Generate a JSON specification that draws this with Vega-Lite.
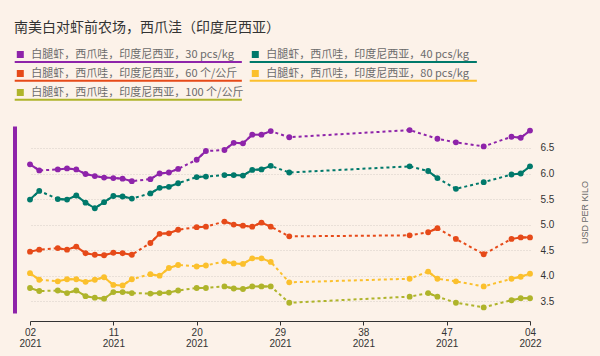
{
  "$schema": "https://vega.github.io/schema/vega-lite/v6.json",
  "width": 500,
  "height": 187,
  "autosize": {"type": "none"},
  "padding": {"left": 30, "top": 126, "right": 70, "bottom": 43},
  "background": "#fcf2e9",
  "config": {"view": {"stroke": null}, "font": "Noto Sans CJK SC"},
  "title": {
    "text": "南美白对虾前农场，西爪洼（印度尼西亚）",
    "anchor": "start",
    "frame": "group",
    "fontSize": 14,
    "fontWeight": "normal",
    "color": "#333333",
    "font": "Noto Sans CJK SC",
    "dx": -16,
    "dy": -6,
    "offset": 8
  },
  "data": {
    "values": [
      {"series": "30 pcs/kg", "week": 2, "price": 6.18},
      {"series": "30 pcs/kg", "week": 3, "price": 6.06},
      {"series": "30 pcs/kg", "week": 5, "price": 6.08},
      {"series": "30 pcs/kg", "week": 6, "price": 6.10},
      {"series": "30 pcs/kg", "week": 7, "price": 6.08},
      {"series": "30 pcs/kg", "week": 8, "price": 5.99},
      {"series": "30 pcs/kg", "week": 9, "price": 5.95},
      {"series": "30 pcs/kg", "week": 10, "price": 5.92},
      {"series": "30 pcs/kg", "week": 11, "price": 5.91},
      {"series": "30 pcs/kg", "week": 12, "price": 5.90},
      {"series": "30 pcs/kg", "week": 13, "price": 5.85},
      {"series": "30 pcs/kg", "week": 15, "price": 5.89},
      {"series": "30 pcs/kg", "week": 16, "price": 6.00},
      {"series": "30 pcs/kg", "week": 17, "price": 6.02},
      {"series": "30 pcs/kg", "week": 18, "price": 6.09},
      {"series": "30 pcs/kg", "week": 20, "price": 6.27},
      {"series": "30 pcs/kg", "week": 21, "price": 6.44},
      {"series": "30 pcs/kg", "week": 23, "price": 6.46},
      {"series": "30 pcs/kg", "week": 24, "price": 6.60},
      {"series": "30 pcs/kg", "week": 25, "price": 6.59},
      {"series": "30 pcs/kg", "week": 26, "price": 6.76},
      {"series": "30 pcs/kg", "week": 27, "price": 6.76},
      {"series": "30 pcs/kg", "week": 28, "price": 6.83},
      {"series": "30 pcs/kg", "week": 30, "price": 6.71},
      {"series": "30 pcs/kg", "week": 43, "price": 6.85},
      {"series": "30 pcs/kg", "week": 46, "price": 6.68},
      {"series": "30 pcs/kg", "week": 48, "price": 6.61},
      {"series": "30 pcs/kg", "week": 51, "price": 6.53},
      {"series": "30 pcs/kg", "week": 54, "price": 6.72},
      {"series": "30 pcs/kg", "week": 55, "price": 6.70},
      {"series": "30 pcs/kg", "week": 56, "price": 6.84},
      {"series": "40 pcs/kg", "week": 2, "price": 5.49},
      {"series": "40 pcs/kg", "week": 3, "price": 5.66},
      {"series": "40 pcs/kg", "week": 5, "price": 5.50},
      {"series": "40 pcs/kg", "week": 6, "price": 5.49},
      {"series": "40 pcs/kg", "week": 7, "price": 5.57},
      {"series": "40 pcs/kg", "week": 8, "price": 5.43},
      {"series": "40 pcs/kg", "week": 9, "price": 5.32},
      {"series": "40 pcs/kg", "week": 10, "price": 5.44},
      {"series": "40 pcs/kg", "week": 11, "price": 5.56},
      {"series": "40 pcs/kg", "week": 12, "price": 5.55},
      {"series": "40 pcs/kg", "week": 13, "price": 5.51},
      {"series": "40 pcs/kg", "week": 15, "price": 5.61},
      {"series": "40 pcs/kg", "week": 16, "price": 5.72},
      {"series": "40 pcs/kg", "week": 17, "price": 5.74},
      {"series": "40 pcs/kg", "week": 18, "price": 5.81},
      {"series": "40 pcs/kg", "week": 20, "price": 5.93},
      {"series": "40 pcs/kg", "week": 21, "price": 5.94},
      {"series": "40 pcs/kg", "week": 23, "price": 5.97},
      {"series": "40 pcs/kg", "week": 24, "price": 5.97},
      {"series": "40 pcs/kg", "week": 25, "price": 5.96},
      {"series": "40 pcs/kg", "week": 26, "price": 6.07},
      {"series": "40 pcs/kg", "week": 27, "price": 6.08},
      {"series": "40 pcs/kg", "week": 28, "price": 6.15},
      {"series": "40 pcs/kg", "week": 30, "price": 6.02},
      {"series": "40 pcs/kg", "week": 43, "price": 6.14},
      {"series": "40 pcs/kg", "week": 45, "price": 6.05},
      {"series": "40 pcs/kg", "week": 46, "price": 5.91},
      {"series": "40 pcs/kg", "week": 48, "price": 5.70},
      {"series": "40 pcs/kg", "week": 51, "price": 5.83},
      {"series": "40 pcs/kg", "week": 54, "price": 5.98},
      {"series": "40 pcs/kg", "week": 55, "price": 6.00},
      {"series": "40 pcs/kg", "week": 56, "price": 6.14},
      {"series": "60 个/公斤", "week": 2, "price": 4.47},
      {"series": "60 个/公斤", "week": 3, "price": 4.51},
      {"series": "60 个/公斤", "week": 5, "price": 4.54},
      {"series": "60 个/公斤", "week": 6, "price": 4.51},
      {"series": "60 个/公斤", "week": 7, "price": 4.57},
      {"series": "60 个/公斤", "week": 8, "price": 4.44},
      {"series": "60 个/公斤", "week": 9, "price": 4.41},
      {"series": "60 个/公斤", "week": 10, "price": 4.40},
      {"series": "60 个/公斤", "week": 11, "price": 4.45},
      {"series": "60 个/公斤", "week": 12, "price": 4.44},
      {"series": "60 个/公斤", "week": 13, "price": 4.41},
      {"series": "60 个/公斤", "week": 15, "price": 4.64},
      {"series": "60 个/公斤", "week": 16, "price": 4.82},
      {"series": "60 个/公斤", "week": 17, "price": 4.83},
      {"series": "60 个/公斤", "week": 18, "price": 4.90},
      {"series": "60 个/公斤", "week": 20, "price": 4.95},
      {"series": "60 个/公斤", "week": 21, "price": 4.96},
      {"series": "60 个/公斤", "week": 23, "price": 5.06},
      {"series": "60 个/公斤", "week": 24, "price": 5.00},
      {"series": "60 个/公斤", "week": 25, "price": 4.98},
      {"series": "60 个/公斤", "week": 26, "price": 4.96},
      {"series": "60 个/公斤", "week": 27, "price": 5.04},
      {"series": "60 个/公斤", "week": 28, "price": 4.96},
      {"series": "60 个/公斤", "week": 30, "price": 4.77},
      {"series": "60 个/公斤", "week": 43, "price": 4.79},
      {"series": "60 个/公斤", "week": 45, "price": 4.85},
      {"series": "60 个/公斤", "week": 46, "price": 4.93},
      {"series": "60 个/公斤", "week": 48, "price": 4.72},
      {"series": "60 个/公斤", "week": 51, "price": 4.42},
      {"series": "60 个/公斤", "week": 54, "price": 4.72},
      {"series": "60 个/公斤", "week": 55, "price": 4.75},
      {"series": "60 个/公斤", "week": 56, "price": 4.75},
      {"series": "80 pcs/kg", "week": 2, "price": 4.05},
      {"series": "80 pcs/kg", "week": 3, "price": 3.92},
      {"series": "80 pcs/kg", "week": 5, "price": 3.89},
      {"series": "80 pcs/kg", "week": 6, "price": 3.93},
      {"series": "80 pcs/kg", "week": 7, "price": 3.93},
      {"series": "80 pcs/kg", "week": 8, "price": 3.88},
      {"series": "80 pcs/kg", "week": 9, "price": 3.92},
      {"series": "80 pcs/kg", "week": 10, "price": 3.97},
      {"series": "80 pcs/kg", "week": 11, "price": 3.82},
      {"series": "80 pcs/kg", "week": 12, "price": 3.81},
      {"series": "80 pcs/kg", "week": 13, "price": 3.93},
      {"series": "80 pcs/kg", "week": 15, "price": 4.03},
      {"series": "80 pcs/kg", "week": 16, "price": 4.00},
      {"series": "80 pcs/kg", "week": 17, "price": 4.15},
      {"series": "80 pcs/kg", "week": 18, "price": 4.21},
      {"series": "80 pcs/kg", "week": 20, "price": 4.18},
      {"series": "80 pcs/kg", "week": 21, "price": 4.20},
      {"series": "80 pcs/kg", "week": 23, "price": 4.28},
      {"series": "80 pcs/kg", "week": 24, "price": 4.24},
      {"series": "80 pcs/kg", "week": 25, "price": 4.23},
      {"series": "80 pcs/kg", "week": 26, "price": 4.34},
      {"series": "80 pcs/kg", "week": 27, "price": 4.34},
      {"series": "80 pcs/kg", "week": 28, "price": 4.27},
      {"series": "80 pcs/kg", "week": 30, "price": 3.87},
      {"series": "80 pcs/kg", "week": 43, "price": 3.94},
      {"series": "80 pcs/kg", "week": 45, "price": 4.08},
      {"series": "80 pcs/kg", "week": 46, "price": 3.94},
      {"series": "80 pcs/kg", "week": 48, "price": 3.89},
      {"series": "80 pcs/kg", "week": 51, "price": 3.79},
      {"series": "80 pcs/kg", "week": 54, "price": 3.94},
      {"series": "80 pcs/kg", "week": 55, "price": 3.98},
      {"series": "80 pcs/kg", "week": 56, "price": 4.04},
      {"series": "100 个/公斤", "week": 2, "price": 3.76},
      {"series": "100 个/公斤", "week": 3, "price": 3.70},
      {"series": "100 个/公斤", "week": 5, "price": 3.71},
      {"series": "100 个/公斤", "week": 6, "price": 3.66},
      {"series": "100 个/公斤", "week": 7, "price": 3.71},
      {"series": "100 个/公斤", "week": 8, "price": 3.60},
      {"series": "100 个/公斤", "week": 9, "price": 3.57},
      {"series": "100 个/公斤", "week": 10, "price": 3.55},
      {"series": "100 个/公斤", "week": 11, "price": 3.68},
      {"series": "100 个/公斤", "week": 12, "price": 3.68},
      {"series": "100 个/公斤", "week": 13, "price": 3.66},
      {"series": "100 个/公斤", "week": 15, "price": 3.65},
      {"series": "100 个/公斤", "week": 16, "price": 3.66},
      {"series": "100 个/公斤", "week": 17, "price": 3.67},
      {"series": "100 个/公斤", "week": 18, "price": 3.71},
      {"series": "100 个/公斤", "week": 20, "price": 3.76},
      {"series": "100 个/公斤", "week": 21, "price": 3.76},
      {"series": "100 个/公斤", "week": 23, "price": 3.79},
      {"series": "100 个/公斤", "week": 24, "price": 3.75},
      {"series": "100 个/公斤", "week": 25, "price": 3.74},
      {"series": "100 个/公斤", "week": 26, "price": 3.79},
      {"series": "100 个/公斤", "week": 27, "price": 3.79},
      {"series": "100 个/公斤", "week": 28, "price": 3.79},
      {"series": "100 个/公斤", "week": 30, "price": 3.47},
      {"series": "100 个/公斤", "week": 43, "price": 3.59},
      {"series": "100 个/公斤", "week": 45, "price": 3.66},
      {"series": "100 个/公斤", "week": 46, "price": 3.59},
      {"series": "100 个/公斤", "week": 48, "price": 3.47},
      {"series": "100 个/公斤", "week": 51, "price": 3.38},
      {"series": "100 个/公斤", "week": 54, "price": 3.52},
      {"series": "100 个/公斤", "week": 55, "price": 3.56},
      {"series": "100 个/公斤", "week": 56, "price": 3.56}
    ]
  },
  "encoding": {
    "x": {
      "field": "week", "type": "quantitative",
      "scale": {"domain": [2, 56], "nice": false, "zero": false},
      "axis": {
        "orient": "bottom",
        "values": [2, 11, 20, 29, 38, 47, 56],
        "title": null,
        "grid": false,
        "offset": 8,
        "domainColor": "#333333",
        "domainWidth": 1,
        "tickColor": "#333333",
        "tickSize": 4,
        "labelPadding": 2,
        "labelFont": "Liberation Sans",
        "labelFontSize": 10,
        "labelColor": "#333333",
        "labelLineHeight": 11,
        "labelFlush": false,
        "labelExpr": "datum.value > 52 ? ['0' + (datum.value - 52), '2022'] : [(datum.value < 10 ? '0' : '') + datum.value, '2021']"
      }
    },
    "color": {
      "field": "series", "type": "nominal",
      "scale": {
        "domain": ["30 pcs/kg", "40 pcs/kg", "60 个/公斤", "80 pcs/kg", "100 个/公斤"],
        "range": ["#8e24aa", "#00796b", "#e64a19", "#fbc02d", "#afb42b"]
      },
      "legend": {
        "title": null,
        "orient": "none",
        "direction": "horizontal",
        "legendX": -15.2,
        "legendY": -77,
        "columns": 2,
        "padding": 0,
        "symbolType": "M-1,-1H1V1H-1Z M-1.6,1.8H63.3V2.37H-1.6Z",
        "symbolSize": 49,
        "symbolStrokeWidth": 0,
        "symbolOpacity": 1,
        "labelFont": "Noto Sans CJK SC",
        "labelFontSize": 11,
        "labelColor": "#6b6b6b",
        "labelLimit": 0,
        "labelOffset": 5.5,
        "columnPadding": 5,
        "rowPadding": 4,
        "labelExpr": "'白腿虾，西爪哇，印度尼西亚，' + datum.label"
      }
    }
  },
  "resolve": {"axis": {"y": "independent"}},
  "layer": [
    {
      "mark": {"type": "line", "strokeWidth": 2, "strokeDash": [3, 3]},
      "encoding": {
        "y": {
          "field": "price", "type": "quantitative",
          "scale": {"domain": [3.27, 6.93], "nice": false, "zero": false},
          "axis": {
            "orient": "right",
            "values": [3.5, 4, 4.5, 5, 5.5, 6, 6.5],
            "format": ".1f",
            "domain": false,
            "ticks": false,
            "grid": true,
            "gridColor": "#d6cec6",
            "gridDash": [1, 2],
            "gridWidth": 1,
            "labelPadding": 10,
            "labelFont": "Liberation Sans",
            "labelFontSize": 10,
            "labelColor": "#333333",
            "title": "USD PER KILO",
            "titleFont": "Liberation Sans",
            "titleFontSize": 9,
            "titleFontWeight": "normal",
            "titleColor": "#666666",
            "titleAngle": 270,
            "titlePadding": 36,
            "titleY": 86
          }
        }
      }
    },
    {
      "transform": [
        {
          "window": [
            {"op": "lead", "field": "week", "as": "nextWeek"},
            {"op": "lead", "field": "price", "as": "nextPrice"}
          ],
          "groupby": ["series"],
          "sort": [{"field": "week"}]
        },
        {"filter": "datum.nextWeek == datum.week + 1"}
      ],
      "mark": {"type": "rule", "strokeWidth": 2},
      "encoding": {
        "x2": {"field": "nextWeek"},
        "y": {"field": "price", "type": "quantitative", "axis": null},
        "y2": {"field": "nextPrice"}
      }
    },
    {
      "mark": {"type": "point", "filled": true, "size": 34, "opacity": 1},
      "encoding": {
        "y": {
          "field": "price", "type": "quantitative",
          "axis": {
            "orient": "left",
            "labels": false,
            "ticks": false,
            "grid": false,
            "title": null,
            "domainColor": "#8e24aa",
            "domainWidth": 4,
            "offset": 15.5
          }
        }
      }
    }
  ]
}
